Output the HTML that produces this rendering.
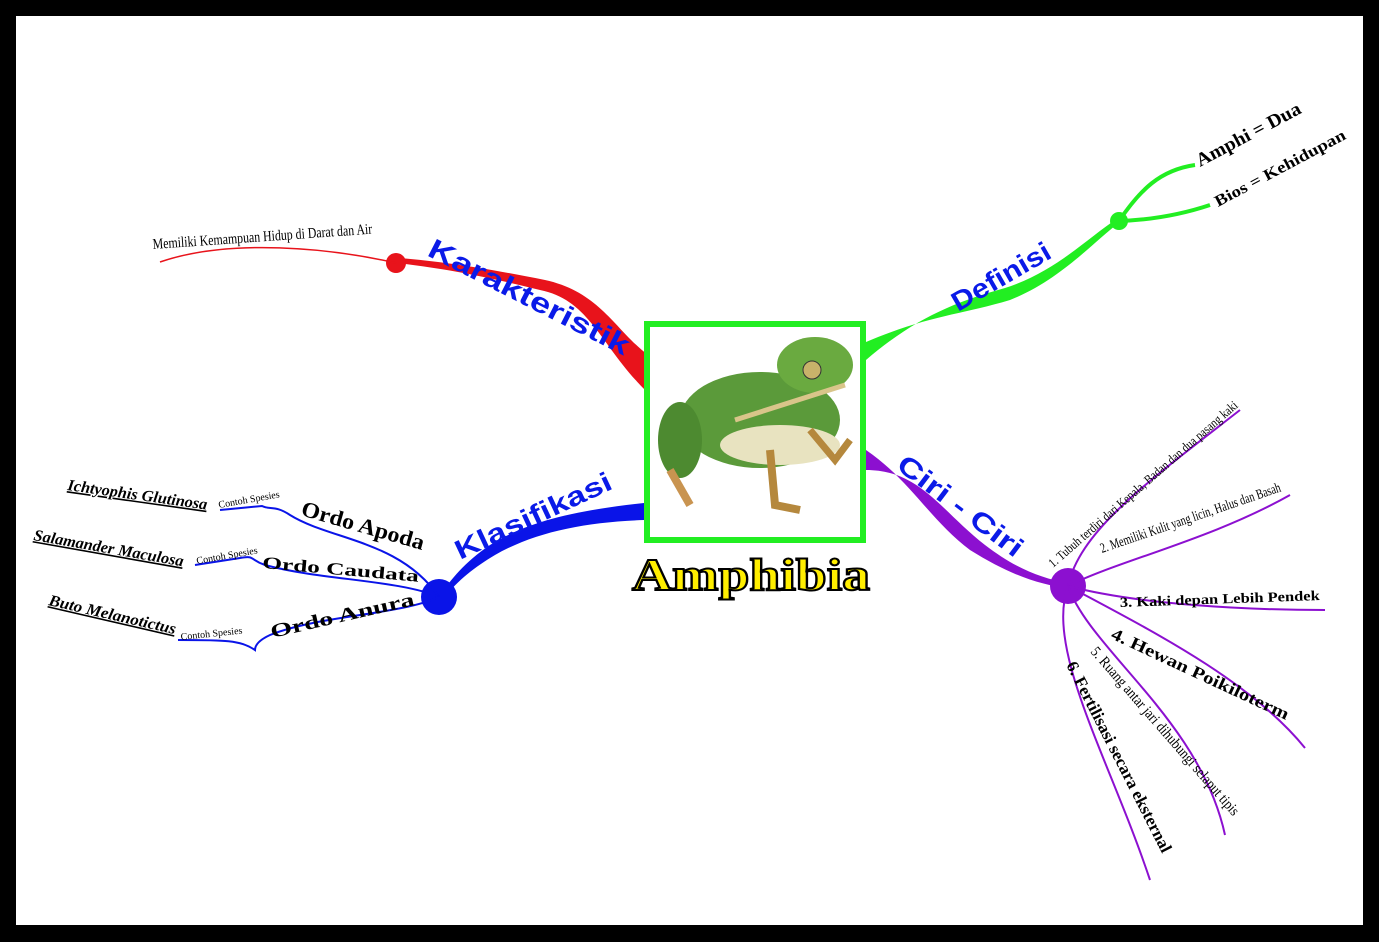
<!DOCTYPE html>
<html><head><meta charset="utf-8">
<style>
html,body{margin:0;padding:0;background:#000;}
body{width:1379px;height:942px;overflow:hidden;position:relative;}
svg{position:absolute;left:0;top:0;}
text{font-family:"Liberation Serif",serif;}
.lbl{font-family:"Liberation Sans",sans-serif;font-weight:bold;fill:#0a1ae8;}
</style></head>
<body>
<svg width="1379" height="942" viewBox="0 0 1379 942">
<rect x="0" y="0" width="1379" height="942" fill="#000"/>
<rect x="16" y="16" width="1347" height="909" fill="#fff"/>

<!-- Karakteristik (red) -->
<g>
<path d="M645,390 C600,345 590,300 540,290 C480,275 440,268 397,263 L400,258 C445,262 485,268 545,280 C600,292 615,330 648,355 Z" fill="#e8131b"/>
<circle cx="396" cy="263" r="10" fill="#e8131b"/>
<path d="M396,263 C330,248 230,238 160,262" stroke="#e8131b" stroke-width="1.5" fill="none"/>
<text transform="translate(153,249) rotate(-4)" font-size="15" textLength="220" lengthAdjust="spacingAndGlyphs">Memiliki Kemampuan Hidup di Darat dan Air</text>
<text class="lbl" transform="translate(426,255) rotate(27)" font-size="28" textLength="222" lengthAdjust="spacingAndGlyphs">Karakteristik</text>
</g>

<!-- Definisi (green) -->
<g>
<path d="M866,342 C930,315 960,315 1010,300 C1060,280 1090,245 1120,222 L1118,218 C1085,240 1055,272 1005,288 C955,302 915,318 866,360 Z" fill="#22ee22"/>
<circle cx="1119" cy="221" r="9" fill="#22ee22"/>
<path d="M1119,221 C1140,190 1160,170 1195,165" stroke="#22ee22" stroke-width="4" fill="none"/>
<path d="M1119,221 C1150,220 1180,215 1210,205" stroke="#22ee22" stroke-width="4" fill="none"/>
<text transform="translate(1200,167) rotate(-28)" font-size="19" font-weight="bold" textLength="116" lengthAdjust="spacingAndGlyphs">Amphi = Dua</text>
<text transform="translate(1218,207) rotate(-28)" font-size="16" font-weight="bold" textLength="146" lengthAdjust="spacingAndGlyphs">Bios  = Kehidupan</text>
<text class="lbl" transform="translate(958,312) rotate(-30)" font-size="27" textLength="110" lengthAdjust="spacingAndGlyphs">Definisi</text>
</g>

<!-- Klasifikasi (blue) -->
<g>
<path d="M644,503 C580,510 530,520 490,545 C465,562 450,580 440,596 L444,598 C458,580 475,567 495,555 C535,532 585,522 644,520 Z" fill="#0a14e8"/>
<circle cx="439" cy="597" r="18" fill="#0a14e8"/>
<path d="M439,597 C400,540 330,540 290,515 C275,505 270,510 262,506 L220,510" stroke="#0a14e8" stroke-width="2" fill="none"/>
<path d="M439,597 C400,580 320,580 265,565 C250,560 255,555 240,558 L195,565" stroke="#0a14e8" stroke-width="2" fill="none"/>
<path d="M439,597 C400,615 320,615 270,635 C255,642 255,648 255,650 C240,640 225,640 178,640" stroke="#0a14e8" stroke-width="2" fill="none"/>
<text transform="translate(300,515) rotate(16)" font-size="22" font-weight="bold" textLength="127" lengthAdjust="spacingAndGlyphs">Ordo Apoda</text>
<text transform="translate(262,568) rotate(5)" font-size="17" font-weight="bold" textLength="157" lengthAdjust="spacingAndGlyphs">Ordo Caudata</text>
<text transform="translate(272,638) rotate(-13)" font-size="19" font-weight="bold" textLength="147" lengthAdjust="spacingAndGlyphs">Ordo Anura</text>
<text transform="translate(219,508) rotate(-10)" font-size="10">Contoh Spesies</text>
<text transform="translate(197,564) rotate(-10)" font-size="10">Contoh Spesies</text>
<text transform="translate(181,640) rotate(-6)" font-size="10">Contoh Spesies</text>
<text transform="translate(67,490) rotate(8)" font-size="16" font-style="italic" font-weight="bold" text-decoration="underline" textLength="141" lengthAdjust="spacingAndGlyphs">Ichtyophis Glutinosa</text>
<text transform="translate(33,540) rotate(10)" font-size="16" font-style="italic" font-weight="bold" text-decoration="underline" textLength="152" lengthAdjust="spacingAndGlyphs">Salamander Maculosa</text>
<text transform="translate(48,605) rotate(13)" font-size="16" font-style="italic" font-weight="bold" text-decoration="underline" textLength="130" lengthAdjust="spacingAndGlyphs">Buto Melanotictus</text>
<text class="lbl" transform="translate(460,560) rotate(-25)" font-size="27" textLength="170" lengthAdjust="spacingAndGlyphs">Klasifikasi</text>
</g>

<!-- Ciri-ciri (purple) -->
<g>
<path d="M866,450 C910,480 930,520 970,550 C1010,575 1040,585 1068,588 L1068,583 C1040,578 1015,568 985,545 C940,510 920,470 866,470 Z" fill="#8c10d0"/>
<circle cx="1068" cy="586" r="18" fill="#8c10d0"/>
<g stroke="#8c10d0" stroke-width="2" fill="none">
<path d="M1068,586 C1080,530 1150,480 1240,410"/>
<path d="M1068,586 C1120,560 1210,540 1290,495"/>
<path d="M1068,586 C1140,605 1250,610 1325,610"/>
<path d="M1068,586 C1150,630 1250,680 1305,748"/>
<path d="M1068,586 C1090,650 1200,720 1225,835"/>
<path d="M1068,586 C1045,650 1110,760 1150,880"/>
</g>
<text transform="translate(1053,568) rotate(-41)" font-size="13" textLength="246" lengthAdjust="spacingAndGlyphs">1. Tubuh terdiri dari Kepala, Badan dan dua pasang kaki</text>
<text transform="translate(1102,553) rotate(-19)" font-size="14" textLength="190" lengthAdjust="spacingAndGlyphs">2. Memiliki Kulit yang licin, Halus dan Basah</text>
<text transform="translate(1120,607) rotate(-2)" font-size="14" font-weight="bold" textLength="200" lengthAdjust="spacingAndGlyphs">3. Kaki depan Lebih Pendek</text>
<text transform="translate(1110,638) rotate(25)" font-size="17" font-weight="bold" textLength="194" lengthAdjust="spacingAndGlyphs">4. Hewan Poikiloterm</text>
<text transform="translate(1090,652) rotate(49)" font-size="15" textLength="218" lengthAdjust="spacingAndGlyphs">5. Ruang antar jari dihubungi selaput tipis</text>
<text transform="translate(1066,665) rotate(63)" font-size="17" font-weight="bold" textLength="212" lengthAdjust="spacingAndGlyphs">6. Fertilisasi secara eksternal</text>
<text class="lbl" transform="translate(895,468) rotate(37)" font-size="27" textLength="150" lengthAdjust="spacingAndGlyphs">Ciri - Ciri</text>
</g>

<!-- center -->
<g>
<rect x="647" y="324" width="216" height="216" fill="#fff" stroke="#22ee22" stroke-width="6"/>
<g>
<ellipse cx="760" cy="420" rx="80" ry="48" fill="#5b9a3a"/>
<ellipse cx="780" cy="445" rx="60" ry="20" fill="#e8e3c0"/>
<ellipse cx="815" cy="365" rx="38" ry="28" fill="#6aaa40"/>
<circle cx="812" cy="370" r="9" fill="#c8b26a" stroke="#333"/>
<ellipse cx="680" cy="440" rx="22" ry="38" fill="#4d8a30"/>
<path d="M735,420 L845,385" stroke="#d9c58a" stroke-width="5"/>
<path d="M770,450 L775,505 L800,510" stroke="#b5883d" stroke-width="8" fill="none"/>
<path d="M810,430 L835,460 L850,440" stroke="#b5883d" stroke-width="7" fill="none"/>
<path d="M670,470 L690,505" stroke="#c99450" stroke-width="8"/>
</g>
<text x="632" y="590" font-size="46" font-weight="bold" fill="#ffee00" stroke="#000" stroke-width="2" textLength="238" lengthAdjust="spacingAndGlyphs">Amphibia</text>
</g>
</svg>
</body></html>
